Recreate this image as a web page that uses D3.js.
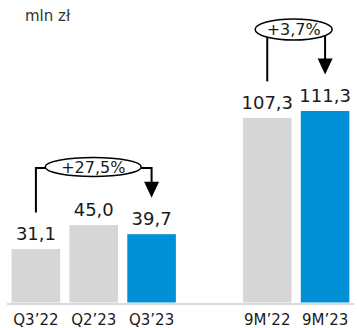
<!DOCTYPE html>
<html>
<head>
<meta charset="utf-8">
<script src="https://cdn.jsdelivr.net/npm/d3@7"></script>
<style>
  html, body { margin: 0; padding: 0; background: #fff; }
  svg { display: block; font-family: "DejaVu Sans", Verdana, sans-serif; }
</style>
</head>
<body>
<svg id="chart" width="358" height="328"></svg>
<script>
// Revenue, quarterly and year-to-date (mln zł)
const categories = ["Q3’22", "Q2’23", "Q3’23", "9M’22", "9M’23"];
const values = [31.1, 45.0, 39.7, 107.3, 111.3];
const highlighted = ["Q3’23", "9M’23"];
const valueLabels = ["31,1", "45,0", "39,7", "107,3", "111,3"];
const unitLabel = "mln zł";

// Year-on-year change brackets
const changeFrom = ["Q3’22", "9M’22"];
const changeTo = ["Q3’23", "9M’23"];
const changeLabels = ["+27,5%", "+3,7%"];

const GAP = "__gap__";
const svg = d3.select("#chart");

// A blank slot separates the quarterly group from the 9M group
const slots = [...categories.slice(0, 3), GAP, ...categories.slice(3)];

const x = d3.scaleBand()
  .domain(slots)
  .range([7, 354])
  .paddingInner(0.16)
  .paddingOuter(0.08);

const y = d3.scaleLinear()
  .domain([0, d3.max(values)])
  .range([302.5, 111]);

const data = categories.map((c, i) => ({ c, v: values[i], label: valueLabels[i] }));
const cx = c => x(c) + x.bandwidth() / 2;
const vOf = c => values[categories.indexOf(c)];

// Unit caption
svg.append("text")
  .attr("x", 25).attr("y", 21)
  .attr("font-size", 15)
  .attr("fill", "#333")
  .text(unitLabel);

// Bars
svg.append("g").selectAll("rect")
  .data(data)
  .join("rect")
  .attr("x", d => x(d.c))
  .attr("y", d => y(d.v))
  .attr("width", x.bandwidth())
  .attr("height", d => y(0) - y(d.v))
  .attr("fill", d => highlighted.includes(d.c) ? "#0090d7" : "#d5d6d8");

// Baseline
svg.append("line")
  .attr("x1", 7).attr("x2", 354)
  .attr("y1", y(0) + 1.5).attr("y2", y(0) + 1.5)
  .attr("stroke", "#d9d9d9")
  .attr("stroke-width", 2);

// Value labels
svg.append("g").selectAll("text")
  .data(data)
  .join("text")
  .attr("x", d => cx(d.c))
  .attr("y", d => y(d.v) - 9)
  .attr("text-anchor", "middle")
  .attr("font-size", 18)
  .attr("fill", "#1a1a1a")
  .text(d => d.label);

// Category axis labels
const xAxis = d3.axisBottom(x).tickSize(0).tickPadding(0)
  .tickFormat(d => d === GAP ? "" : d);
const ax = svg.append("g")
  .attr("transform", `translate(0,${y(0)})`)
  .call(xAxis);
ax.select(".domain").remove();
ax.selectAll("text")
  .attr("y", 22.5)
  .attr("dy", 0)
  .attr("font-size", 15)
  .attr("font-family", "DejaVu Sans, Verdana, sans-serif")
  .attr("fill", "#1a1a1a");

// Change brackets: line up from the earlier bar, ellipse with the change, arrow down to the later bar
const bracketLayout = [
  { cy: 167, rx: 48, ry: 9.5 },
  { cy: 29.5, rx: 38.5, ry: 10.5 }
];
const lift = 36.5, headW = 15, headH = 16;

changeFrom.forEach((from, i) => {
  const to = changeTo[i];
  const { cy, rx, ry } = bracketLayout[i];
  const x0 = cx(from), x1 = cx(to);
  const ex = (i === 0) ? cx(categories[1]) - 0.5 : (x0 + x1) / 2 - 2.5;
  const g = svg.append("g");

  // Where a connector at horizontal position px meets the ellipse
  function attach(px, side) {
    const t = (px - ex) / rx;
    if (Math.abs(t) < 1) {
      return `V${cy + ry * Math.sqrt(1 - t * t)}`;
    }
    return `V${cy + 1}H${ex + side * rx}`;
  }

  const startY = y(vOf(from)) - lift;
  const tipY = y(vOf(to)) - lift;
  const headTop = tipY - headH;

  g.append("path")
    .attr("d", `M${x0},${startY}` + attach(x0, -1))
    .attr("fill", "none").attr("stroke", "#000").attr("stroke-width", 2);

  g.append("path")
    .attr("d", `M${x1},${headTop + 1}` + attach(x1, 1))
    .attr("fill", "none").attr("stroke", "#000").attr("stroke-width", 2);

  g.append("path")
    .attr("d", `M${x1 - headW / 2},${headTop}L${x1 + headW / 2},${headTop}L${x1},${tipY}Z`)
    .attr("fill", "#000");

  g.append("ellipse")
    .attr("cx", ex).attr("cy", cy)
    .attr("rx", rx).attr("ry", ry)
    .attr("fill", "#fff").attr("stroke", "#000").attr("stroke-width", 1.5);

  g.append("text")
    .attr("x", ex).attr("y", cy + 5.5)
    .attr("text-anchor", "middle")
    .attr("font-size", 16)
    .attr("fill", "#1a1a1a")
    .text(changeLabels[i]);
});
</script>
</body>
</html>
